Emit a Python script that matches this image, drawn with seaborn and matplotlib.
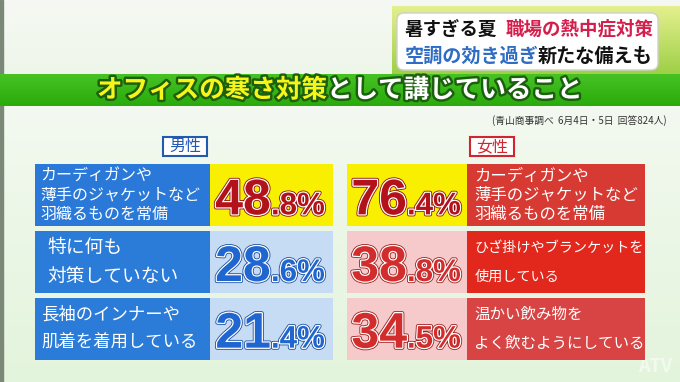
import numpy as np
import pandas as pd
import matplotlib
matplotlib.use("Agg")
import matplotlib.pyplot as plt
import matplotlib.patheffects as pe
from matplotlib.patches import Rectangle, FancyBboxPatch
from matplotlib.colors import LinearSegmentedColormap
import seaborn as sns

# --- data ---
male_items = ["カーディガンや\n薄手のジャケットなど\n羽織るものを常備",
              "特に何も\n対策していない",
              "長袖のインナーや\n肌着を着用している"]
male_pct = [48.8, 28.6, 21.4]
female_items = ["カーディガンや\n薄手のジャケットなど\n羽織るものを常備",
                "ひざ掛けやブランケットを\n使用している",
                "温かい飲み物を\nよく飲むようにしている"]
female_pct = [76.4, 38.8, 34.5]

headline_1 = ["暑すぎる夏", "職場の熱中症対策"]
headline_2 = ["空調の効き過ぎ", "新たな備えも"]
title_parts = ["オフィスの寒さ対策", "として講じていること"]
source_note = "(青山商事調べ  6月4日・5日  回答824人)"

sns.set_theme(style="white")
plt.rcParams['font.family'] = ['Noto Sans CJK JP', 'DejaVu Sans']

fig = plt.figure(figsize=(6.8, 3.82), dpi=100)

# background axes in pixel units
bg = fig.add_axes([0, 0, 1, 1])
bg.set_xlim(0, 680)
bg.set_ylim(382, 0)
bg.axis("off")


def grad(ax, x0, x1, y0, y1, c_top, c_bot, z=0):
    cm = LinearSegmentedColormap.from_list("g", [c_top, c_bot])
    ax.imshow(np.linspace(0, 1, 64).reshape(-1, 1), cmap=cm, aspect="auto",
              extent=[x0, x1, y1, y0], zorder=z, interpolation="bilinear")


grad(bg, 0, 680, 0, 74, "#f6f9f3", "#eef6ea")
grad(bg, 0, 680, 106, 382, "#f3f9f0", "#e3f4dc")
bg.add_patch(Rectangle((0, 0), 2.5, 382, color="#7b8878", zorder=1))

# headline box
grad(bg, 392, 680, 6, 76, "#e4ef8e", "#9ccf45", z=1)
bg.add_patch(FancyBboxPatch((397, 13), 261, 57, boxstyle="round,pad=0,rounding_size=7",
                            fc="white", ec="#cfcfcf", lw=1, zorder=2))
bold = dict(fontweight="bold", va="center", ha="left", zorder=3)
bg.text(405, 29, headline_1[0], fontsize=13.3, color="#111111", **bold)
bg.text(506, 29, headline_1[1], fontsize=13.3, color="#d41f4c", **bold)
bg.text(405, 56, headline_2[0], fontsize=13.8, color="#2f6cc4", **bold)
bg.text(538, 56, headline_2[1], fontsize=13.8, color="#111111", **bold)

# green title band
grad(bg, 0, 680, 74, 106, "#46c224", "#2aaa0c", z=1)
outline = [pe.Stroke(linewidth=3.5, foreground="#1c5f0e"), pe.Normal()]
bg.text(97, 90, title_parts[0], fontsize=18.4, color="#f7f51a", path_effects=outline, **bold)
bg.text(327, 90, title_parts[1], fontsize=18.4, color="white", path_effects=outline, **bold)

bg.text(667, 121, source_note, fontsize=7, color="#333333", ha="right", va="center")

# gender tags
for x, txt, col in [(163, "男性", "#2459b0"), (470, "女性", "#d0262e")]:
    bg.add_patch(Rectangle((x, 137), 44, 19, fc="white", ec=col, lw=1.5, zorder=2))
    bg.text(x + 22, 146.5, txt, fontsize=11.5, color=col, ha="center", va="center", zorder=3)

ROW_PX = 200 / 3


def panel(left, items, pct, cell_cols, val_cols, num_cols, label_first,
          text_x, split_x, sizes, gaps):
    ax = fig.add_axes([left / 680, 1 - 362 / 382, 298 / 680, 200 / 382])
    ax.set_facecolor("none")
    df = pd.DataFrame({"item": items, "pct": pct})
    full = [298] * len(items)
    if label_first:
        under, under_cols, over, over_cols = full, val_cols, [175] * 3, cell_cols
    else:
        under, under_cols, over, over_cols = full, cell_cols, [120] * 3, val_cols
    for w, cols in [(under, under_cols), (over, over_cols)]:
        sns.barplot(x=w, y=df["item"], hue=df["item"], palette=cols, orient="h",
                    width=0.93, saturation=1, legend=False, errorbar=None,
                    linewidth=0, ax=ax)
    ax.set_xlim(0, 298)
    ax.set_ylim(2.5, -0.5)
    ax.axis("off")
    for i, (item, v) in enumerate(zip(items, pct)):
        lines = item.split("\n")
        n = len(lines)
        for k, ln in enumerate(lines):
            dy = (k - (n - 1) / 2) * gaps[i] / ROW_PX
            ax.text(text_x[i], i + dy, ln, fontsize=sizes[i], color="white",
                    ha="left", va="center", zorder=5)
        big, small = f"{v:.1f}".split(".")
        fx = [pe.Stroke(linewidth=3, foreground=num_cols[i][1]),
              pe.Stroke(linewidth=1.8, foreground="white"), pe.Normal()]
        yb = i + 19 / ROW_PX
        ax.text(split_x, yb, big, fontsize=36, fontweight="bold", family="Liberation Sans",
                color=num_cols[i][0], ha="right", va="baseline", path_effects=fx, zorder=5)
        ax.text(split_x, yb, "." + small + "%", fontsize=22.5, fontweight="bold",
                family="Liberation Sans", color=num_cols[i][0], ha="left",
                va="baseline", path_effects=fx, zorder=5)
    return ax


panel(35, male_items, male_pct,
      cell_cols=["#2a79d8", "#2b7bd9", "#2b7bd9"],
      val_cols=["#f8f000", "#c6dcf5", "#c6dcf5"],
      num_cols=[("#b3121a", "#8a1010"), ("#1f66d1", "#1a4f9e"), ("#1f66d1", "#1a4f9e")],
      label_first=True, text_x=[5, 12, 6], split_x=236,
      sizes=[11.5, 13.5, 12.5], gaps=[19, 29, 28])

panel(347, female_items, female_pct,
      cell_cols=["#d63a33", "#e2281c", "#d84343"],
      val_cols=["#f8f000", "#f6caca", "#f6caca"],
      num_cols=[("#b3121a", "#8a1010"), ("#d22c2c", "#9e1e1e"), ("#d22c2c", "#9e1e1e")],
      label_first=False, text_x=[127, 128, 127], split_x=60,
      sizes=[11.8, 10.2, 11.2], gaps=[19, 29, 29])

bg.text(655, 366, "ATV", fontsize=13, fontstyle="italic", fontweight="bold",
        color="white", alpha=0.55, ha="center", va="center", zorder=6)

fig.savefig("out.png", dpi=100)
